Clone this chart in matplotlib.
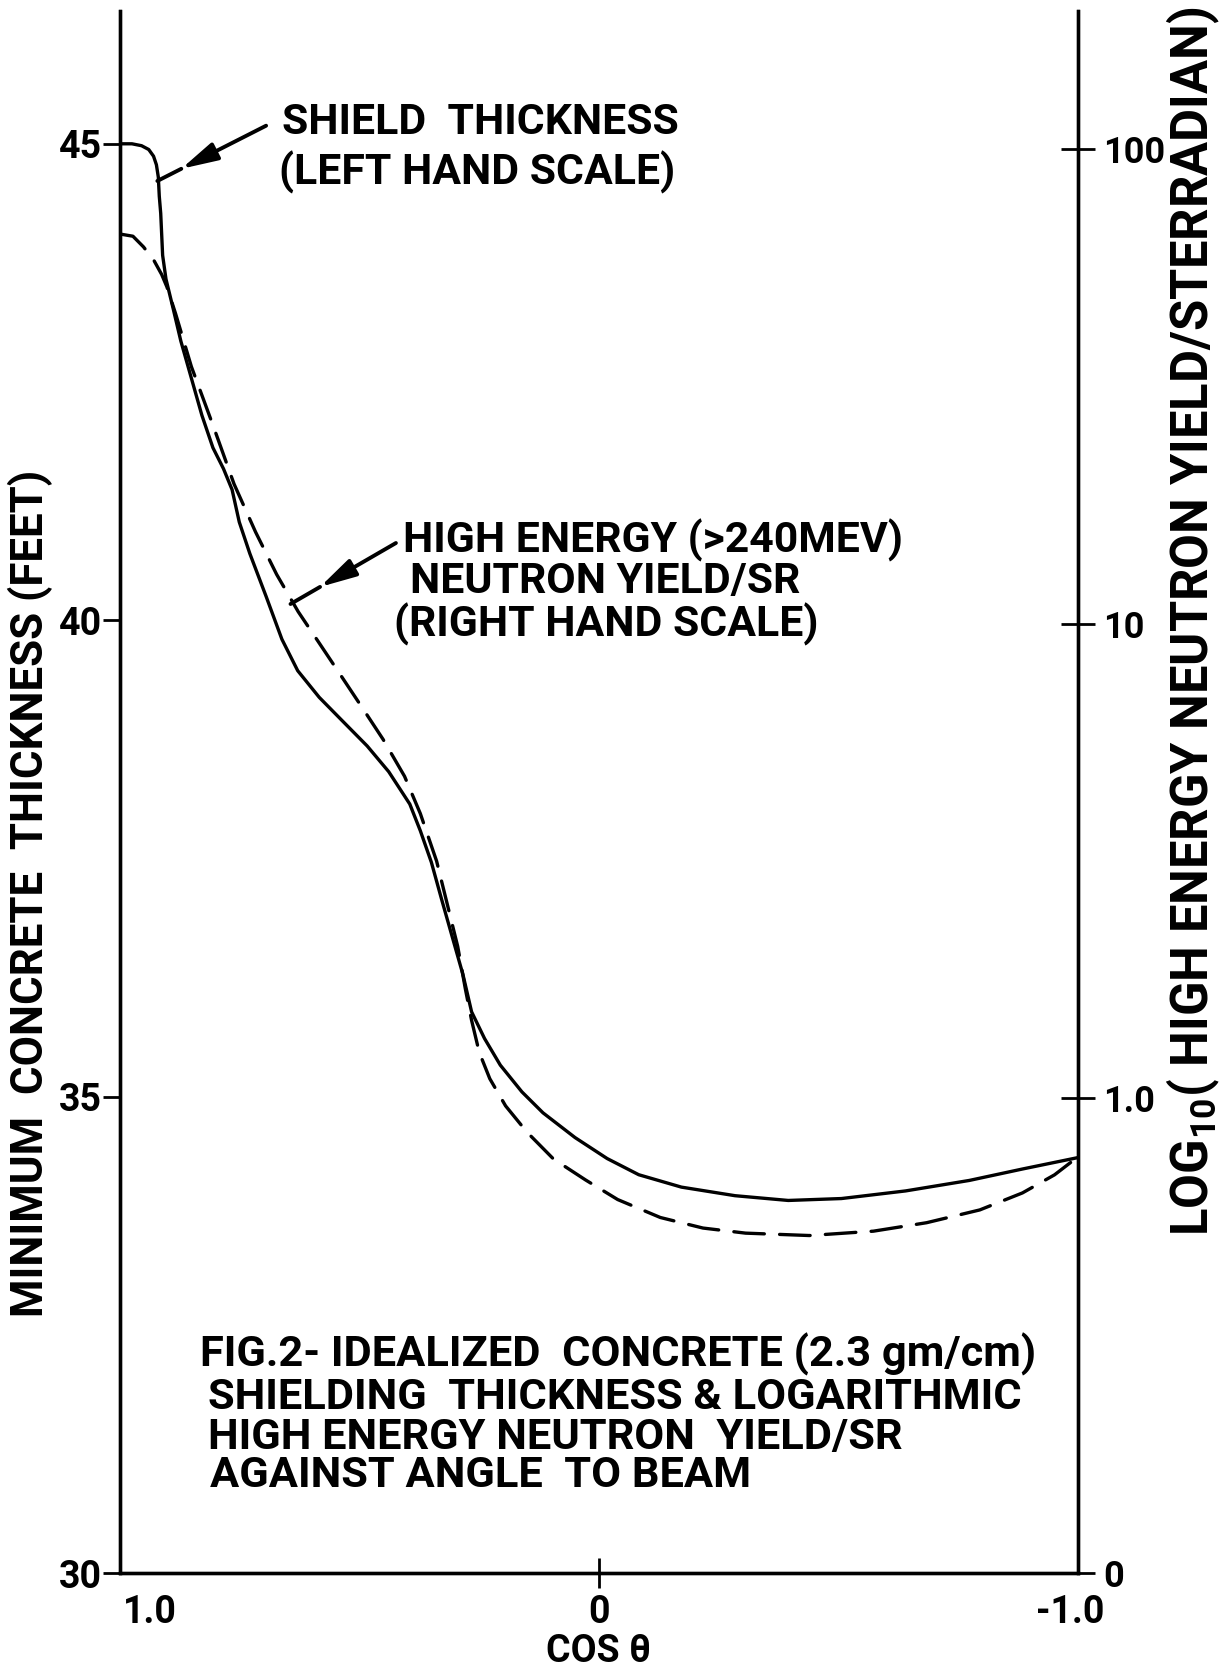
import matplotlib
matplotlib.use("Agg")
import matplotlib.pyplot as plt
import matplotlib.transforms as mtransforms
from matplotlib import font_manager

_names = {f.name for f in font_manager.fontManager.ttflist}
FONT = next((n for n in ['Roboto', 'Liberation Sans', 'DejaVu Sans'] if n in _names),
            'DejaVu Sans')

plt.rcParams['font.family'] = [FONT, 'DejaVu Sans']
plt.rcParams['font.weight'] = 'bold'
plt.rcParams['axes.labelweight'] = 'bold'
plt.rcParams['mathtext.fontset'] = 'custom'
plt.rcParams['mathtext.rm'] = FONT + ':bold'
plt.rcParams['mathtext.bf'] = FONT + ':bold'
plt.rcParams['lines.scale_dashes'] = False

# ---------------- data ----------------
cos_theta_thick = [1.000, 0.975, 0.955, 0.940, 0.930, 0.924, 0.920, 0.918, 0.915, 0.911,
                   0.904, 0.889, 0.873, 0.851, 0.829, 0.806, 0.784, 0.766, 0.751, 0.729,
                   0.695, 0.662, 0.629, 0.584, 0.539, 0.484, 0.439, 0.395, 0.373, 0.350,
                   0.328, 0.306, 0.284, 0.266, 0.239, 0.206, 0.161, 0.117, 0.050, -0.017,
                   -0.083, -0.172, -0.284, -0.395, -0.506, -0.640, -0.773, -0.884, -1.000]
thickness_ft = [45.00, 45.00, 44.98, 44.94, 44.87, 44.78, 44.65, 44.45, 44.27, 43.83,
                43.58, 43.27, 42.93, 42.54, 42.15, 41.81, 41.59, 41.37, 41.03, 40.70,
                40.25, 39.80, 39.47, 39.19, 38.96, 38.68, 38.41, 38.07, 37.79, 37.46,
                37.06, 36.67, 36.28, 35.89, 35.61, 35.33, 35.05, 34.83, 34.57, 34.35,
                34.18, 34.05, 33.96, 33.91, 33.93, 34.01, 34.12, 34.24, 34.36]

cos_theta_yield = [1.000, 0.973, 0.951, 0.929, 0.913, 0.902, 0.884, 0.851, 0.806, 0.762,
                   0.717, 0.673, 0.628, 0.584, 0.539, 0.495, 0.451, 0.406, 0.373, 0.339,
                   0.317, 0.295, 0.279, 0.266, 0.250, 0.228, 0.195, 0.150, 0.095, 0.028,
                   -0.039, -0.128, -0.217, -0.306, -0.439, -0.573, -0.684, -0.795, -0.884,
                   -0.951, -1.000]
neutron_yield = [66.2, 65.5, 62.2, 58.2, 54.4, 51.2, 45.0, 34.8, 26.2, 19.7,
                 15.6, 12.7, 10.6, 9.10, 7.78, 6.67, 5.71, 4.77, 3.98, 3.16,
                 2.57, 2.09, 1.70, 1.46, 1.25, 1.10, 0.964, 0.848, 0.745, 0.673,
                 0.612, 0.561, 0.533, 0.520, 0.514, 0.525, 0.547, 0.582, 0.632,
                 0.690, 0.753]

x_ticks = [1.0, 0.0, -1.0]
x_ticklabels = ['1.0', '0', '-1.0']
left_ticks = [30, 35, 40, 45]
left_ticklabels = ['30', '35', '40', '45']
right_ticks = [0.1, 1.0, 10.0, 100.0]
right_ticklabels = ['0', '1.0', '10', '100']

caption_lines = ['FIG.2- IDEALIZED  CONCRETE (2.3 gm/cm)',
                 'SHIELDING  THICKNESS & LOGARITHMIC',
                 'HIGH ENERGY NEUTRON  YIELD/SR',
                 'AGAINST ANGLE  TO BEAM']

# ---------------- figure ----------------
W, H = 1223, 1670
fig = plt.figure(figsize=(W / 100, H / 100), dpi=100)
fig.patch.set_facecolor('white')

L, R, B, T = 120, 1078, 1573, 11   # axes box in pixels (top-left origin)
ax = fig.add_axes([L / W, 1 - B / H, (R - L) / W, (B - T) / H])
ax.set_xlim(1, -1)
ax.set_ylim(30, 30 + (B - T) / ((B - 143.8) / 15.0))

ax2 = ax.twinx()
ax2.set_yscale('log')
px_dec = (B - 149.0) / 3.0
ax2.set_ylim(0.1, 10 ** (-1 + (B - T) / px_dec))

lw_axis = 2.4
for a in (ax, ax2):
    a.spines['top'].set_visible(False)
    for s in ('left', 'right', 'bottom'):
        a.spines[s].set_linewidth(lw_axis)
ax.patch.set_visible(False)

# curves
ax.plot(cos_theta_thick, thickness_ft, color='black', lw=2.4, solid_capstyle='round')
ax2.plot(cos_theta_yield, neutron_yield, color='black', lw=2.4,
         linestyle=(0, (22, 11)), dash_capstyle='round')

# ticks
ax.set_xticks(x_ticks)
ax.set_xticklabels(x_ticklabels)
ax.tick_params(axis='x', direction='inout', length=22, width=2, labelsize=27, pad=4)
xt = ax.xaxis.get_major_ticks()
xt[0].tick1line.set_visible(False)
xt[2].tick1line.set_visible(False)
offs = [mtransforms.ScaledTranslation(30 / 100, 0, fig.dpi_scale_trans),
        mtransforms.ScaledTranslation(0, 0, fig.dpi_scale_trans),
        mtransforms.ScaledTranslation(-8 / 100, 0, fig.dpi_scale_trans)]
for lab, o in zip(ax.get_xticklabels(), offs):
    lab.set_transform(lab.get_transform() + o)

ax.set_yticks(left_ticks)
ax.set_yticklabels(left_ticklabels)
ax.tick_params(axis='y', direction='out', length=12, width=2, labelsize=27, pad=1)

ax2.set_yticks(right_ticks)
ax2.set_yticklabels(right_ticklabels)
ax2.minorticks_off()
ax2.yaxis.set_minor_locator(matplotlib.ticker.NullLocator())
ax2.tick_params(axis='y', direction='inout', length=24, width=2, labelsize=26, pad=6)

# axis labels
ax.set_xlabel('COS θ', fontsize=27, fontweight='bold')
ax.xaxis.set_label_coords(0.5, -(1651 - B) / (B - T))
ax.xaxis.label.set_va('center')

ax.set_ylabel('MINIMUM  CONCRETE  THICKNESS (FEET)', fontsize=27, rotation=90,
              fontweight='bold')
ax.yaxis.label.set_va('center')
ax.yaxis.set_label_coords((30 - L) / (R - L), (B - 893) / (B - T))

ax2.set_ylabel(r'LOG$_{10}$( HIGH ENERGY NEUTRON YIELD/STERRADIAN)', fontsize=27,
               rotation=90, fontweight='bold')
ax2.yaxis.label.set_va('center')
ax2.yaxis.set_label_coords((1193 - L) / (R - L), (B - 621) / (B - T))


def fx(px):
    return px / W


def fy(py):
    return 1 - py / H


# annotations
ann_kw = dict(fontsize=27, va='baseline', fontweight='bold')
t1 = fig.text(fx(282), fy(134), 'SHIELD  THICKNESS', **ann_kw)
t2 = fig.text(fx(279), fy(184), '(LEFT HAND SCALE)', **ann_kw)
t3 = fig.text(fx(403), fy(552), 'HIGH ENERGY (>240MEV)', **ann_kw)
t4 = fig.text(fx(410), fy(593), 'NEUTRON YIELD/SR', **ann_kw)
t5 = fig.text(fx(394), fy(636), '(RIGHT HAND SCALE)', **ann_kw)

cap_base = [1367, 1409, 1449, 1487]
cap_x = [200, 208, 208, 210]
caps = [fig.text(fx(x), fy(y), s, fontsize=27, va='baseline', fontweight='bold')
        for x, y, s in zip(cap_x, cap_base, caption_lines)]

renderer = fig.canvas.get_renderer()


def fit(t, target):
    bb = t.get_window_extent(renderer)
    size = max(bb.width, bb.height)
    t.set_fontsize(t.get_fontsize() * target / size)


fit(t1, 396)
for t in (t2, t3, t4, t5):
    t.set_fontsize(t1.get_fontsize())
fit(caps[1], 815)
for t in caps:
    t.set_fontsize(caps[1].get_fontsize())
fit(ax.yaxis.label, 847)
fit(ax2.yaxis.label, 1231)


# leader lines with mid arrowheads (in left-axis data coordinates)
def leader(start, end, frac):
    tip = (start[0] + frac * (end[0] - start[0]), start[1] + frac * (end[1] - start[1]))
    ax.annotate('', xy=tip, xytext=start,
                arrowprops=dict(arrowstyle='-|>,head_length=1.1,head_width=0.28',
                                lw=2.8, color='black', shrinkA=0, shrinkB=0,
                                mutation_scale=20))
    ax.annotate('', xy=end, xytext=tip,
                arrowprops=dict(arrowstyle='-', lw=2.8, color='black',
                                shrinkA=0, shrinkB=0))


leader((0.695, 45.19), (0.922, 44.61), 0.78)
leader((0.424, 40.81), (0.644, 40.17), 0.72)

fig.savefig('out.png', dpi=100, facecolor='white')
